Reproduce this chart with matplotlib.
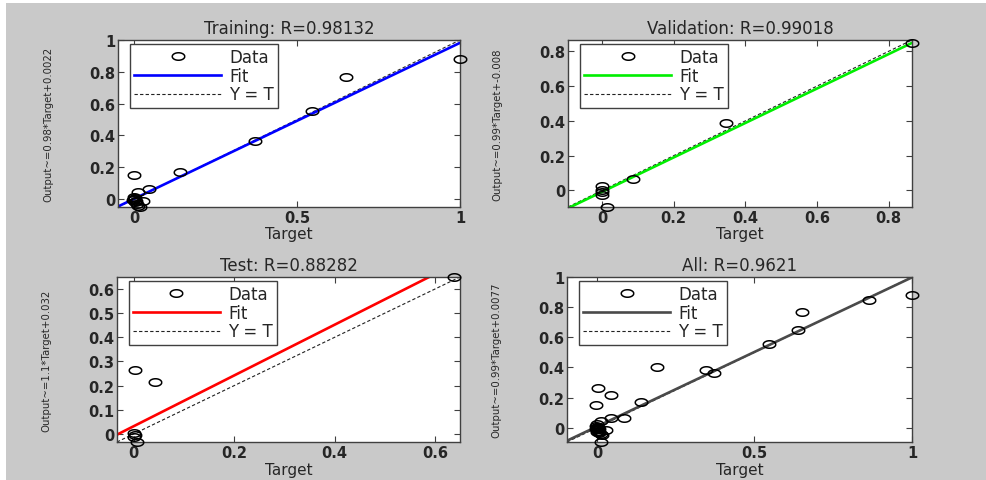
import numpy as np
import matplotlib.pyplot as plt
from matplotlib.path import Path
from matplotlib.patches import Rectangle
from matplotlib.ticker import FormatStrFormatter, MultipleLocator
from matplotlib import font_manager

# Values (target, output)
train_target = [-0.002, 0.012, 0.045, 0.14, 0.37, 0.545, 0.65, 1.0,
                0.0, -0.004, 0.003, 0.005, -0.002, 0.002, 0.008, 0.028, 0.012, 0.017]
train_output = [0.148, 0.047, 0.063, 0.173, 0.365, 0.555, 0.77, 0.88,
                0.0, -0.008, 0.006, -0.012, 0.01, -0.02, -0.03, -0.015, -0.045, -0.05]

val_target = [0.0, 0.0, 0.0, 0.0, 0.014, 0.087, 0.345, 0.865]
val_output = [0.025, 0.0, -0.01, -0.027, -0.095, 0.063, 0.385, 0.845]

test_target = [0.003, 0.043, 0.19, 0.637, 0.0, 0.003, 0.0, 0.007]
test_output = [0.264, 0.217, 0.40, 0.649, 0.004, -0.005, -0.012, -0.033]

titles = ['Training: R=0.98132', 'Validation: R=0.99018', 'Test: R=0.88282', 'All: R=0.9621']
fit_slope = [0.98, 0.99, 1.05, 0.99]
fit_icept = [0.0022, -0.008, 0.032, 0.0077]
ylabels = ['Output~=0.98*Target+0.0022', 'Output~=0.99*Target+-0.008',
           'Output~=1.1*Target+0.032', 'Output~=0.99*Target+0.0077']
fit_colors = ['#0000ff', '#00ee00', '#ff0000', '#4a4a4a']
xtick_step = [0.5, 0.2, 0.2, 0.5]
ytick_step = [0.2, 0.2, 0.1, 0.2]

all_target = np.concatenate([train_target, val_target, test_target])
all_output = np.concatenate([train_output, val_output, test_output])
targets = [np.array(train_target), np.array(val_target), np.array(test_target), all_target]
outputs = [np.array(train_output), np.array(val_output), np.array(test_output), all_output]

# Narrow font for the rotated y labels if there is one
try:
    font_manager.findfont(font_manager.FontProperties(family='Liberation Sans Narrow'),
                          fallback_to_default=False)
    ylab_font, ylab_size = 'Liberation Sans Narrow', 10
except ValueError:
    ylab_font, ylab_size = 'DejaVu Sans', 7.3

text_col = '#262626'
plt.rcParams['font.family'] = ['DejaVu Sans']

# elliptic open marker (the source picture is stretched sideways)
theta = np.linspace(0, 2 * np.pi, 40)
ellipse = Path(np.column_stack([np.cos(theta), 0.6 * np.sin(theta)]))

fig = plt.figure(figsize=(9.87, 4.81), dpi=100)
fig.patch.set_facecolor('white')
fig.patches.append(Rectangle((6 / 987, 0), 1, 1 - 4 / 481, transform=fig.transFigure,
                             facecolor='#c9c9c9', edgecolor='none', zorder=-10))

positions = [[0.1196, 0.5676, 0.3465, 0.3472],
             [0.5755, 0.5676, 0.3485, 0.3472],
             [0.1185, 0.0790, 0.3475, 0.3430],
             [0.5745, 0.0790, 0.3495, 0.3430]]
xlab_y = [-0.115, -0.115, -0.12, -0.12]

for i in range(4):
    ax = fig.add_axes(positions[i])
    t, o = targets[i], outputs[i]
    lo = min(t.min(), o.min())
    hi = max(t.max(), o.max())

    xs = np.array([lo, hi])
    ax.plot(t, o, linestyle='none', marker=ellipse, markersize=9, markerfacecolor='none',
            markeredgecolor='black', markeredgewidth=1.1, label='Data', clip_on=False, zorder=3)
    ax.plot(xs, fit_slope[i] * xs + fit_icept[i], color=fit_colors[i], lw=1.9, label='Fit', zorder=2)
    ax.plot(xs, xs, color='#222222', lw=0.8, linestyle=(0, (3, 2)), label='Y = T', zorder=1)

    ax.set_xlim(lo, hi)
    ax.set_ylim(lo, hi)
    ax.xaxis.set_major_locator(MultipleLocator(xtick_step[i]))
    ax.yaxis.set_major_locator(MultipleLocator(ytick_step[i]))
    ax.xaxis.set_major_formatter(FormatStrFormatter('%g'))
    ax.yaxis.set_major_formatter(FormatStrFormatter('%g'))
    ax.tick_params(direction='in', top=True, right=True, length=4, width=0.8,
                   colors='#404040', labelcolor=text_col, labelsize=10.5, pad=2)
    for lab in ax.get_xticklabels() + ax.get_yticklabels():
        lab.set_fontweight('bold')
    for sp in ax.spines.values():
        sp.set_color('#404040')
        sp.set_linewidth(1.0)

    ax.set_title(titles[i], fontsize=12, color=text_col, pad=5)
    ax.set_xlabel('Target', fontsize=11, color=text_col)
    ax.xaxis.set_label_coords(0.5, xlab_y[i])
    ax.set_ylabel(ylabels[i], family=ylab_font, fontsize=ylab_size, color=text_col)
    ax.yaxis.set_label_coords(-0.19, 0.5)

    leg = ax.legend(loc='upper left', bbox_to_anchor=(0.035, 0.978), borderaxespad=0,
                    fontsize=12, labelspacing=0.05, handlelength=5.2, handletextpad=0.5,
                    borderpad=0.25, fancybox=False, framealpha=1, edgecolor='#404040')
    leg.get_frame().set_linewidth(1.0)
    for txt in leg.get_texts():
        txt.set_color(text_col)

plt.savefig('out.png', dpi=100)
